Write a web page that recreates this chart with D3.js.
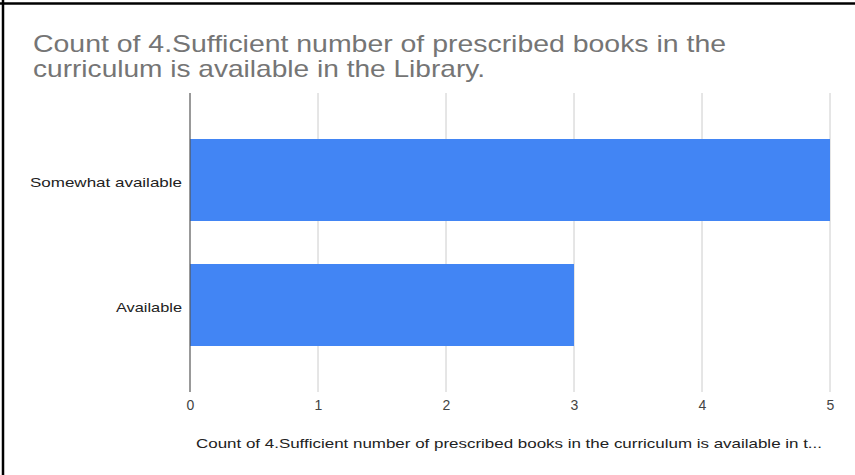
<!DOCTYPE html>
<html>
<head>
<meta charset="utf-8">
<script src="https://cdn.jsdelivr.net/npm/d3@7"></script>
<style>
  body { margin: 0; background: #fff; }
  svg { display: block; font-family: Arial, "Liberation Sans", sans-serif; }
</style>
</head>
<body>
<svg id="chart" width="855" height="475"></svg>
<script>
const categories = ["Somewhat available", "Available"];
const counts = [5, 3];
const xTicks = [0, 1, 2, 3, 4, 5];
const titleLines = ["Count of 4.Sufficient number of prescribed books in the", "curriculum is available in the Library."];
const xTitle = "Count of 4.Sufficient number of prescribed books in the curriculum is available in t...";

// widths of the stretched text in the screenshot
const titleWidths = [693, 452];
const labelWidths = { "Somewhat available": 152, "Available": 66 };

const svg = d3.select("#chart");
const margins = { top: 93, left: 190, right: 25, bottom: 83 };
const width = +svg.attr("width");
const height = +svg.attr("height");

// frame (top and left edges only, like the screenshot)
svg.append("line").attr("x1", 0).attr("x2", width).attr("y1", 3.5).attr("y2", 3.5)
  .attr("stroke", "#000").attr("stroke-width", 2.5);
svg.append("line").attr("x1", 3).attr("x2", 3).attr("y1", 0).attr("y2", height)
  .attr("stroke", "#000").attr("stroke-width", 2.5);

svg.append("g").selectAll("text").data(titleLines).join("text")
  .attr("x", 33).attr("y", (d, i) => 52 + i * 25)
  .attr("fill", "#757575").attr("font-size", 24)
  .attr("textLength", (d, i) => titleWidths[i])
  .attr("lengthAdjust", "spacingAndGlyphs")
  .text(d => d);

const x = d3.scaleLinear().domain([0, 5]).range([margins.left, width - margins.right]);
const y = d3.scaleBand().domain(categories)
  .range([margins.top, height - margins.bottom])
  .paddingInner(0.344).paddingOuter(0.368);

// gridlines
svg.append("g").selectAll("line").data(xTicks.slice(1)).join("line")
  .attr("x1", d => x(d)).attr("x2", d => x(d))
  .attr("y1", margins.top).attr("y2", height - margins.bottom)
  .attr("stroke", "#ccc").attr("stroke-width", 1);

svg.append("g").selectAll("rect").data(counts).join("rect")
  .attr("x", x(0))
  .attr("y", (d, i) => y(categories[i]))
  .attr("width", d => x(d) - x(0))
  .attr("height", y.bandwidth())
  .attr("fill", "#4285f4");

// baseline axis at zero
svg.append("line")
  .attr("x1", x(0)).attr("x2", x(0))
  .attr("y1", margins.top).attr("y2", height - margins.bottom)
  .attr("stroke", "#555").attr("stroke-width", 1.2);

const xAxis = svg.append("g")
  .attr("transform", `translate(0,${height - margins.bottom})`)
  .call(d3.axisBottom(x).tickValues(xTicks).tickFormat(d3.format("d")).tickSize(0).tickPadding(8));
xAxis.select(".domain").remove();
xAxis.selectAll("text").attr("font-size", 14).attr("fill", "#444")
  .attr("font-family", "Arial, 'Liberation Sans', sans-serif");

const yAxis = svg.append("g")
  .attr("transform", `translate(${margins.left},0)`)
  .call(d3.axisLeft(y).tickSize(0).tickPadding(8));
yAxis.select(".domain").remove();
yAxis.selectAll("text").attr("font-size", 13).attr("fill", "#222")
  .attr("dy", "0.5em")
  .attr("font-family", "Arial, 'Liberation Sans', sans-serif")
  .attr("textLength", d => labelWidths[d])
  .attr("lengthAdjust", "spacingAndGlyphs");

svg.append("text")
  .attr("x", 196).attr("y", 448)
  .attr("font-size", 13).attr("fill", "#222")
  .attr("textLength", 626).attr("lengthAdjust", "spacingAndGlyphs")
  .text(xTitle);
</script>
</body>
</html>
